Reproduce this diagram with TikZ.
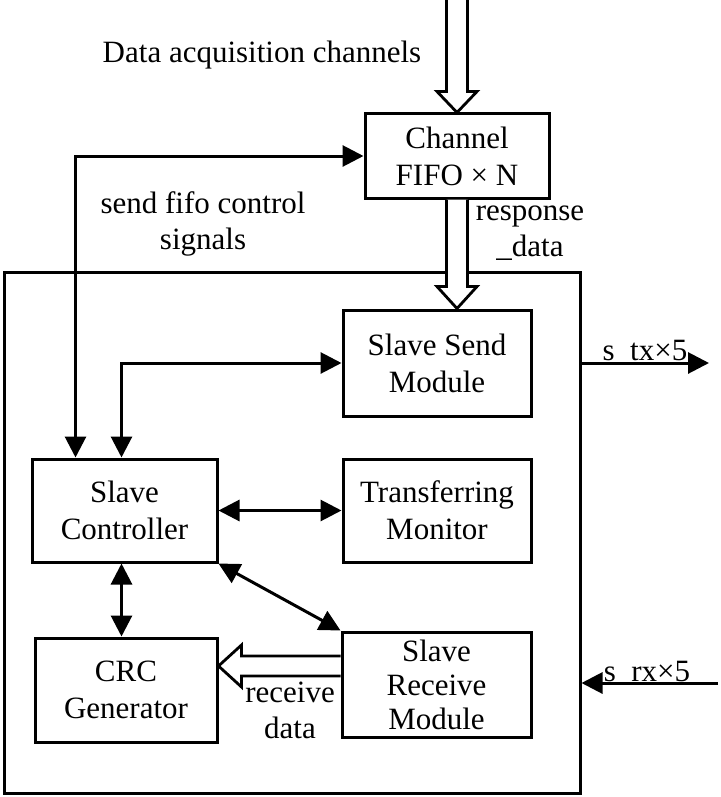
\documentclass[tikz,border=0pt]{standalone}
\usepackage{fontspec}
\setmainfont{Liberation Serif}
\usetikzlibrary{arrows.meta,calc}
\begin{document}
\begin{tikzpicture}[x=1pt,y=-1pt,
  txt/.style={font=\fontsize{31}{36}\selectfont, align=center, inner sep=0pt},
  box/.style={draw, line width=3pt, inner sep=0pt, align=center, font=\fontsize{31}{37}\selectfont},
  dbl/.style={line width=3pt, {Triangle[length=21pt,width=21pt]}-{Triangle[length=21pt,width=21pt]}},
  sgl/.style={line width=3pt, -{Triangle[length=21pt,width=21pt]}},
  hollow/.style={draw, fill=white, line width=2.8pt, line join=miter}]
\useasboundingbox (0,0) rectangle (720,797);

% outer box
\node[draw, line width=3pt, inner sep=0pt, minimum width=576pt, minimum height=521pt] (outer) at (292,532.5) {};

% blocks
\node[box, minimum width=184pt, minimum height=84pt] (fifo) at (457,156) {Channel\\FIFO × N};
\node[box, minimum width=188pt, minimum height=106pt] (send) at (437,363) {Slave Send\\Module};
\node[box, minimum width=185pt, minimum height=103pt] (ctrl) at (124.5,510.5) {Slave\\Controller};
\node[box, minimum width=188pt, minimum height=103pt] (mon) at (437,510.5) {Transferring\\Monitor};
\node[box, minimum width=182pt, minimum height=104pt] (crc) at (126,690) {CRC\\Generator};
\node[box, minimum width=189pt, minimum height=105pt, font=\fontsize{31}{34}\selectfont] (recv) at (436.5,684.5) {Slave\\Receive\\Module};

% labels
\node[txt] (lda) at (262,55) {Data acquisition channels};
\node[txt] (lsf) at (203,224) {send fifo control\\signals};
\node[txt] (lrd) at (530,233) {response\\\_data};
\node[txt] (lrc) at (290,710) {receive\\data};
\node[txt, anchor=base] (ltx) at (645,360) {s\_tx×5};
\node[txt, anchor=base] (lrx) at (647,681) {s\_rx×5};

% hollow arrows
\draw[hollow] ($(fifo.north)+(-10.5,-114)$) -- ($(fifo.north)+(-10.5,-21)$) -- ($(fifo.north)+(-20,-21)$) -- (fifo.north) -- ($(fifo.north)+(20,-21)$) -- ($(fifo.north)+(10.5,-21)$) -- ($(fifo.north)+(10.5,-114)$);
\coordinate (sendtip) at (fifo.south |- send.north);
\draw[hollow] ($(fifo.south)+(-10.5,0)$) -- ($(sendtip)+(-10.5,-22)$) -- ($(sendtip)+(-20,-22)$) -- (sendtip) -- ($(sendtip)+(20,-22)$) -- ($(sendtip)+(10.5,-22)$) -- ($(fifo.south)+(10.5,0)$);
\coordinate (rs) at ($(recv.west)+(0,-18.5)$);
\coordinate (rt) at (crc.east |- rs);
\draw[hollow] ($(rs)+(0,-10)$) -- ($(rt)+(23,-10)$) -- ($(rt)+(23,-21)$) -- (rt) -- ($(rt)+(23,21)$) -- ($(rt)+(23,10)$) -- ($(rs)+(0,10)$);

% connectors
\coordinate (c1) at ([xshift=45pt]ctrl.north west);
\coordinate (c2) at ([xshift=91pt]ctrl.north west);
\coordinate (c3) at ([xshift=91pt]ctrl.south west);
\draw[dbl] (c1) |- (fifo.west);
\draw[dbl] (c2) |- (send.west);
\draw[dbl] (ctrl.east) -- (mon.west);
\draw[dbl] (c3) -- (c3 |- crc.north);
\draw[dbl] (ctrl.south east) -- (recv.north west);
\coordinate (tx) at (709,363);
\draw[sgl] (outer.east |- tx) -- (tx);
\coordinate (rx) at (718,683);
\draw[sgl] (rx) -- (outer.east |- rx);
\end{tikzpicture}
\end{document}
